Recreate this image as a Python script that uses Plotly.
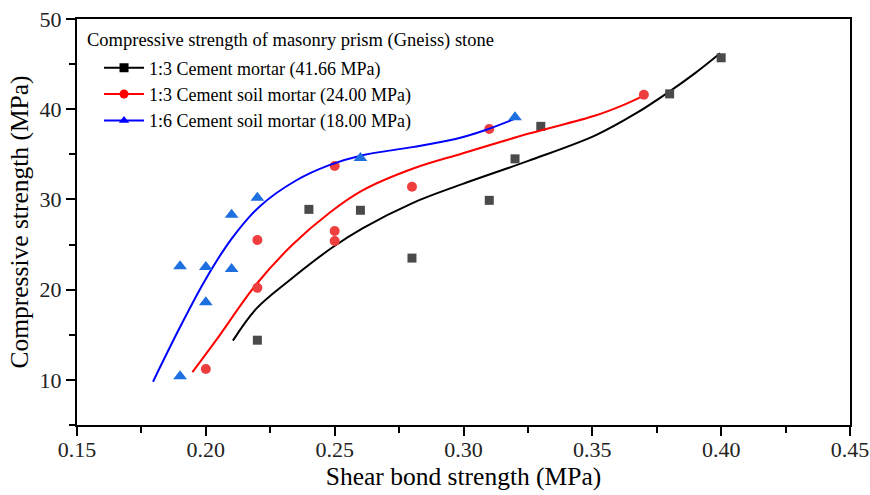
import plotly.graph_objects as go

# ---- measured data ----
cm_x = [0.22, 0.24, 0.26, 0.28, 0.31, 0.32, 0.33, 0.38, 0.40]
cm_y = [14.4, 28.9, 28.8, 23.5, 29.9, 34.5, 38.1, 41.7, 45.7]

csm3_x = [0.20, 0.22, 0.22, 0.25, 0.25, 0.25, 0.28, 0.31, 0.37]
csm3_y = [11.2, 20.2, 25.5, 25.4, 26.5, 33.7, 31.4, 37.8, 41.6]

csm6_x = [0.19, 0.19, 0.20, 0.20, 0.21, 0.21, 0.22, 0.26, 0.32]
csm6_y = [10.4, 22.6, 22.5, 18.6, 28.3, 22.3, 30.2, 34.6, 39.1]

# ---- fitted curves ----
cm_fit_x = [0.2105, 0.2196, 0.2325, 0.2492, 0.2608, 0.2802, 0.2995, 0.3254, 0.3512, 0.3667, 0.3796, 0.3899, 0.3996]
cm_fit_y = [14.35, 17.9, 21.05, 24.7, 26.8, 29.6, 31.7, 34.3, 37.1, 39.5, 41.9, 44.0, 46.2]

csm3_fit_x = [0.1948, 0.2040, 0.2196, 0.2337, 0.2479, 0.2608, 0.2802, 0.2995, 0.3254, 0.3512, 0.3615, 0.3692]
csm3_fit_y = [10.85, 14.4, 20.6, 25.0, 28.5, 31.0, 33.4, 35.1, 37.3, 39.3, 40.4, 41.4]

csm6_fit_x = [0.1795, 0.1899, 0.1996, 0.2099, 0.2208, 0.2350, 0.2479, 0.2608, 0.2802, 0.2969, 0.3086, 0.3196]
csm6_fit_y = [9.8, 15.8, 21.0, 25.6, 29.2, 32.1, 33.8, 34.9, 35.8, 36.7, 37.7, 38.9]

names = ["1:3 Cement mortar (41.66 MPa)",
         "1:3 Cement soil mortar (24.00 MPa)",
         "1:6 Cement soil mortar (18.00 MPa)"]
legend_title = "Compressive strength of masonry prism (Gneiss) stone"

FONT = "Liberation Serif, Times New Roman, serif"

fig = go.Figure()

series = [
    (cm_x, cm_y, cm_fit_x, cm_fit_y, "#000000", "#4a4a4a", "square", 9),
    (csm3_x, csm3_y, csm3_fit_x, csm3_fit_y, "#ff0000", "#ee3e3e", "circle", 10),
    (csm6_x, csm6_y, csm6_fit_x, csm6_fit_y, "#0000ff", "#1e6fdf", "triangle-up", 12),
]

for (sx, sy, fx, fy, lc, mc, sym, ms), name in zip(series, names):
    fig.add_trace(go.Scatter(x=fx, y=fy, mode="lines",
                             line=dict(color=lc, width=2, shape="spline", smoothing=1.0),
                             showlegend=False, hoverinfo="skip"))
    fig.add_trace(go.Scatter(x=sx, y=sy, mode="markers",
                             marker=dict(color=mc, size=ms, symbol=sym),
                             showlegend=False))

for (sx, sy, fx, fy, lc, mc, sym, ms), name in zip(series, names):
    fig.add_trace(go.Scatter(x=[None], y=[None], mode="lines+markers", name=name,
                             line=dict(color=lc, width=2),
                             marker=dict(color=lc, size=9, symbol=sym)))

axis_common = dict(
    showline=True, linecolor="black", linewidth=2, mirror=True,
    ticks="outside", ticklen=9, tickwidth=1.5, tickcolor="black",
    showgrid=False, zeroline=False, automargin=False,
    tickfont=dict(family=FONT, size=22, color="#222"),
)

fig.update_xaxes(range=[0.15, 0.45], tick0=0.15, dtick=0.05, tickformat=".2f",
                 ticklabelstandoff=-5,
                 minor=dict(ticks="outside", ticklen=6, tickwidth=1.5, tickcolor="black", dtick=0.025),
                 title=dict(text="Shear bond strength (MPa)", font=dict(family=FONT, size=25.5, color="black"),
                            standoff=6),
                 **axis_common)
fig.update_yaxes(range=[5, 50], tick0=10, dtick=10,
                 minor=dict(ticks="outside", ticklen=6, tickwidth=1.5, tickcolor="black", dtick=5, tick0=5),
                 title=dict(text="Compressive strength (MPa)", font=dict(family=FONT, size=25.5, color="black"),
                            standoff=4),
                 **axis_common)

fig.add_annotation(text=legend_title, xref="paper", yref="paper", x=0.0103, y=0.948,
                   xanchor="left", yanchor="middle", showarrow=False,
                   font=dict(family=FONT, size=18.5, color="black"))

fig.update_layout(
    width=870, height=495,
    margin=dict(l=77, r=20, t=19, b=70),
    paper_bgcolor="white", plot_bgcolor="white",
    font=dict(family=FONT, color="black"),
    legend=dict(x=0.0285, y=0.925, xanchor="left", yanchor="top",
                bgcolor="rgba(0,0,0,0)", borderwidth=0,
                font=dict(family=FONT, size=18, color="black"),
                tracegroupgap=0, itemwidth=40),
)

fig.write_html("out.html")
